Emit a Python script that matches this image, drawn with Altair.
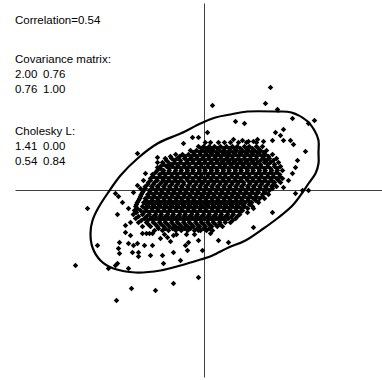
import altair as alt
import pandas as pd

# ---- values shown in the chart text ----
correlation = 0.54
cov_matrix = [[2.00, 0.76], [0.76, 1.00]]
cholesky_L = [[1.41, 0.00], [0.54, 0.84]]

# ---- dense core of the cloud: (y, [x values]) read row by row ----
core_rows = [
    (1.2, [0.02, 0.15, 0.35, 0.5, 0.65, 0.85, 1.05, 1.3]),
    (1.1, [-0.15, -0.02, 0.12, 0.25, 0.4, 0.55, 0.7, 0.82, 1.0, 1.12, 1.3, 1.45]),
    (1.05, [-0.08, 0.05, 0.18, 0.32, 0.48, 0.62, 0.75, 0.9, 1.05, 1.2, 1.35]),
    (1.0, [-0.35, -0.2, -0.05, 0.1, 0.22, 0.38, 0.5, 0.65, 0.8, 0.95, 1.1, 1.25, 1.4, 1.55]),
    (0.95, [-0.28, -0.12, 0.02, 0.15, 0.3, 0.45, 0.58, 0.72, 0.88, 1.02, 1.18, 1.32, 1.48]),
    (0.9, [-0.72, -0.55, -0.4, -0.25, -0.1, 0.05, 0.2, 0.35, 0.5, 0.62, 0.78, 0.92, 1.08, 1.22, 1.38, 1.52, 1.7]),
    (0.85, [-0.85, -0.62, -0.48, -0.32, -0.18, -0.02, 0.12, 0.28, 0.42, 0.58, 0.7, 0.85, 1.0, 1.15, 1.3, 1.45, 1.6]),
    (0.8, [-0.98, -0.82, -0.68, -0.5, -0.35, -0.2, -0.05, 0.1, 0.25, 0.4, 0.55, 0.7, 0.85, 1.0, 1.15, 1.3, 1.48, 1.62, 1.8]),
    (0.75, [-0.95, -0.75, -0.6, -0.42, -0.28, -0.12, 0.02, 0.18, 0.32, 0.48, 0.62, 0.78, 0.92, 1.08, 1.22, 1.4, 1.55, 1.72]),
    (0.7, [-1.05, -0.9, -0.75, -0.6, -0.45, -0.3, -0.15, 0.0, 0.15, 0.3, 0.42, 0.58, 0.72, 0.88, 1.02, 1.18, 1.32, 1.5, 1.65, 1.85]),
    (0.65, [-1.02, -0.82, -0.68, -0.52, -0.38, -0.22, -0.08, 0.08, 0.22, 0.38, 0.5, 0.65, 0.8, 0.95, 1.1, 1.25, 1.4, 1.58, 1.75]),
    (0.6, [-1.1, -0.95, -0.8, -0.65, -0.5, -0.38, -0.22, -0.08, 0.08, 0.22, 0.38, 0.52, 0.68, 0.82, 0.98, 1.12, 1.28, 1.42, 1.58, 1.75, 1.9]),
    (0.55, [-1.1, -0.88, -0.72, -0.58, -0.45, -0.3, -0.15, 0.0, 0.15, 0.3, 0.45, 0.6, 0.75, 0.9, 1.05, 1.2, 1.35, 1.5, 1.65, 1.82]),
    (0.5, [-1.18, -1.02, -0.88, -0.72, -0.58, -0.42, -0.28, -0.12, 0.02, 0.18, 0.32, 0.48, 0.62, 0.78, 0.92, 1.08, 1.22, 1.38, 1.52, 1.68, 1.82, 1.95]),
    (0.45, [-1.22, -1.05, -0.9, -0.75, -0.6, -0.45, -0.3, -0.15, 0.0, 0.15, 0.3, 0.45, 0.6, 0.75, 0.9, 1.05, 1.2, 1.35, 1.5, 1.65, 1.8]),
    (0.4, [-1.3, -1.12, -0.98, -0.82, -0.68, -0.52, -0.38, -0.22, -0.08, 0.08, 0.22, 0.38, 0.52, 0.68, 0.82, 0.98, 1.12, 1.28, 1.42, 1.58, 1.72, 1.88]),
    (0.35, [-1.28, -1.12, -0.98, -0.82, -0.68, -0.52, -0.38, -0.22, -0.08, 0.08, 0.22, 0.38, 0.52, 0.68, 0.82, 0.98, 1.12, 1.28, 1.42, 1.58, 1.72, 1.88]),
    (0.3, [-1.35, -1.2, -1.05, -0.9, -0.75, -0.6, -0.45, -0.3, -0.15, 0.0, 0.15, 0.3, 0.45, 0.6, 0.75, 0.9, 1.05, 1.2, 1.35, 1.5, 1.65, 1.8, 1.95]),
    (0.25, [-1.35, -1.18, -1.02, -0.88, -0.72, -0.58, -0.42, -0.28, -0.12, 0.02, 0.18, 0.32, 0.48, 0.62, 0.78, 0.92, 1.08, 1.22, 1.38, 1.52, 1.68, 1.85]),
    (0.2, [-1.4, -1.25, -1.08, -0.95, -0.8, -0.65, -0.52, -0.35, -0.2, -0.05, 0.1, 0.25, 0.4, 0.55, 0.7, 0.85, 0.98, 1.15, 1.3, 1.45, 1.6, 1.75, 1.9]),
    (0.15, [-1.42, -1.28, -1.12, -0.98, -0.82, -0.68, -0.52, -0.38, -0.22, -0.08, 0.08, 0.22, 0.38, 0.52, 0.68, 0.82, 0.98, 1.12, 1.28, 1.42, 1.58, 1.72]),
    (0.1, [-1.48, -1.32, -1.18, -1.02, -0.88, -0.72, -0.58, -0.42, -0.28, -0.12, 0.02, 0.18, 0.32, 0.48, 0.62, 0.78, 0.92, 1.08, 1.22, 1.38, 1.52, 1.68, 1.8]),
    (0.05, [-1.48, -1.3, -1.15, -1.0, -0.85, -0.7, -0.55, -0.4, -0.25, -0.1, 0.05, 0.2, 0.35, 0.5, 0.65, 0.8, 0.95, 1.1, 1.25, 1.4, 1.55, 1.7]),
    (0.0, [-1.52, -1.38, -1.22, -1.08, -0.92, -0.78, -0.62, -0.48, -0.32, -0.18, -0.02, 0.12, 0.28, 0.42, 0.58, 0.72, 0.88, 1.02, 1.18, 1.32, 1.48, 1.62]),
    (-0.05, [-1.55, -1.35, -1.2, -1.05, -0.9, -0.75, -0.6, -0.45, -0.3, -0.15, 0.0, 0.15, 0.3, 0.45, 0.6, 0.75, 0.9, 1.05, 1.2, 1.35, 1.52]),
    (-0.1, [-1.58, -1.42, -1.28, -1.12, -0.98, -0.82, -0.68, -0.52, -0.38, -0.22, -0.08, 0.08, 0.22, 0.38, 0.52, 0.68, 0.82, 0.98, 1.12, 1.28, 1.45, 1.6]),
    (-0.15, [-1.6, -1.4, -1.25, -1.1, -0.95, -0.8, -0.65, -0.5, -0.35, -0.2, -0.05, 0.1, 0.25, 0.4, 0.55, 0.7, 0.85, 1.0, 1.15, 1.3, 1.45]),
    (-0.2, [-1.62, -1.48, -1.32, -1.18, -1.02, -0.88, -0.72, -0.58, -0.42, -0.28, -0.12, 0.02, 0.18, 0.32, 0.48, 0.62, 0.78, 0.92, 1.08, 1.22, 1.38, 1.5]),
    (-0.25, [-1.65, -1.45, -1.3, -1.15, -1.0, -0.85, -0.7, -0.55, -0.4, -0.25, -0.1, 0.05, 0.2, 0.35, 0.5, 0.65, 0.8, 0.95, 1.1, 1.28]),
    (-0.3, [-1.68, -1.52, -1.38, -1.22, -1.08, -0.92, -0.78, -0.62, -0.48, -0.32, -0.18, -0.02, 0.12, 0.28, 0.42, 0.58, 0.72, 0.88, 1.02, 1.18, 1.35]),
    (-0.35, [-1.7, -1.45, -1.3, -1.15, -1.0, -0.85, -0.7, -0.55, -0.4, -0.25, -0.1, 0.05, 0.2, 0.35, 0.5, 0.65, 0.8, 0.95, 1.12]),
    (-0.4, [-1.72, -1.55, -1.4, -1.25, -1.1, -0.95, -0.8, -0.65, -0.5, -0.35, -0.2, -0.05, 0.1, 0.25, 0.4, 0.55, 0.7, 0.85, 1.0, 1.2]),
    (-0.45, [-1.68, -1.48, -1.32, -1.18, -1.02, -0.88, -0.72, -0.58, -0.42, -0.28, -0.12, 0.02, 0.18, 0.32, 0.48, 0.62, 0.78, 0.92, 1.08]),
    (-0.5, [-1.75, -1.6, -1.45, -1.3, -1.15, -1.0, -0.85, -0.7, -0.55, -0.4, -0.25, -0.1, 0.05, 0.2, 0.35, 0.5, 0.65, 0.8, 0.95]),
    (-0.55, [-1.7, -1.52, -1.38, -1.22, -1.08, -0.92, -0.78, -0.62, -0.48, -0.32, -0.18, -0.02, 0.12, 0.28, 0.42, 0.58, 0.72, 0.88]),
    (-0.6, [-1.78, -1.55, -1.38, -1.22, -1.08, -0.92, -0.78, -0.62, -0.48, -0.32, -0.18, -0.02, 0.12, 0.28, 0.42, 0.58, 0.72, 0.88]),
    (-0.65, [-1.65, -1.45, -1.28, -1.12, -0.98, -0.82, -0.68, -0.52, -0.38, -0.22, -0.08, 0.08, 0.22, 0.38, 0.52, 0.68, 0.82]),
    (-0.7, [-1.72, -1.5, -1.35, -1.2, -1.05, -0.9, -0.75, -0.6, -0.45, -0.3, -0.15, 0.0, 0.15, 0.3, 0.45, 0.6, 0.78]),
    (-0.75, [-1.58, -1.42, -1.28, -1.12, -0.98, -0.82, -0.68, -0.52, -0.38, -0.22, -0.08, 0.08, 0.22, 0.38, 0.52, 0.7]),
    (-0.8, [-1.65, -1.45, -1.28, -1.12, -0.98, -0.82, -0.68, -0.52, -0.38, -0.22, -0.08, 0.08, 0.22, 0.38, 0.52, 0.65]),
    (-0.85, [-1.4, -1.22, -1.08, -0.92, -0.78, -0.62, -0.48, -0.32, -0.18, -0.02, 0.12, 0.28, 0.4]),
    (-0.9, [-1.55, -1.35, -1.18, -1.02, -0.88, -0.72, -0.58, -0.42, -0.28, -0.12, 0.02, 0.18, 0.32, 0.45]),
    (-0.95, [-1.15, -0.98, -0.8, -0.65, -0.5, -0.35, -0.18, -0.02, 0.12]),
    (-1.0, [-1.25, -1.05, -0.9, -0.72, -0.58, -0.42, -0.25, -0.1, 0.05, 0.2]),
    (-1.1, [-1.0, -0.7, -0.45, -0.25]),
]

# ---- scattered points outside the dense core: (x, y) ----
sparse_points = [
    (1.65, 2.575), (0.2, 2.125), (1.525, 2.175), (1.825, 2.025), (2.2, 1.8), (2.6, 1.675),
    (2.75, 1.75), (0.775, 1.725), (1.0, 1.675), (0.075, 1.45), (-0.15, 1.325), (-0.3, 1.325),
    (-0.525, 1.175), (-1.675, 0.925), (-1.175, 0.825), (-1.175, 0.7), (-1.175, 0.575),
    (-0.9, 0.625), (-1.475, 0.425), (-1.525, 0.25), (-1.675, 0.125), (1.775, 1.45),
    (1.975, 1.525), (1.9, 1.375), (2.15, 1.25), (2.225, 1.15), (2.525, 0.975), (2.325, 0.75),
    (2.275, 0.575), (2.2, 0.425), (2.1, 0.25), (1.975, 0.075), (2.275, -0.075), (2.45, 0.0),
    (2.6, 0.0), (0.725, 1.275), (0.95, 1.25), (1.1, 1.225), (1.225, 1.225), (1.325, 1.275),
    (1.475, 1.225), (1.7, 1.25), (1.975, 1.25),
    (-1.6, 0.05), (-1.775, -0.05), (-2.225, -0.075), (-2.15, -0.15), (-2.05, -0.3), (-1.9, -0.45),
    (-2.925, -0.45), (-2.175, -0.6), (-1.975, -0.875), (-1.85, -0.8),
    (-2.675, -1.375), (-3.225, -1.875), (-2.4, -1.95), (-2.225, -1.875), (-1.9, -1.95),
    (-1.825, -2.45), (-1.225, -2.5), (-0.775, -2.325), (-0.15, -2.175), (-2.2, -2.75),
    (-1.55, -1.075), (-1.45, -1.075), (-1.375, -1.075), (-1.3, -1.075), (-1.85, -1.125),
    (-1.975, -1.05), (-2.125, -1.3), (-2.15, -1.45), (-2.125, -1.575), (-1.9, -1.325),
    (-1.775, -1.375), (-1.675, -1.325), (-1.5, -1.375), (-1.3, -1.375), (-1.8, -1.55),
    (-1.65, -1.55), (-1.65, -1.65), (-1.35, -1.625), (-1.05, -1.625), (-1.025, -1.825),
    (-0.775, -1.55), (-0.6, -1.75), (-1.1, -1.2), (-0.925, -1.175), (-0.85, -1.275),
    (-0.775, -1.125), (-0.475, -1.375), (-0.4, -1.3), (-2.175, -1.825), (-0.425, -1.5),
    (-0.15, -1.25), (-0.15, -1.0), (0.35, -1.25), (0.6, -1.3), (1.225, -0.925), (1.075, -0.55),
    (1.225, -0.45), (1.7, -0.55), (0.15, -1.075), (-0.05, -1.5),
]

# ---- confidence ellipse outline ----
ellipse_x = [-0.1, 0.275, 0.65, 1.075, 1.775, 2.175, 2.55, 2.75, 2.85, 2.85, 2.85, 2.775,
             2.6, 2.45, 2.2, 1.85, 1.475, 1.025, 0.6, 0.2, -0.1, -0.6, -1.1, -1.725, -2.275,
             -2.6, -2.8, -2.85, -2.8, -2.65, -2.425, -2.1, -1.675, -1.175, -0.6]
ellipse_y = [1.675, 1.825, 1.9, 1.975, 1.975, 1.95, 1.75, 1.5, 1.25, 0.95, 0.675, 0.425,
             0.175, -0.05, -0.375, -0.675, -0.95, -1.25, -1.425, -1.625, -1.725, -1.875, -2.0,
             -2.05, -1.95, -1.75, -1.425, -1.075, -0.75, -0.425, -0.075, 0.375, 0.8, 1.175, 1.425]

# ---- build tables ----
core_df = pd.DataFrame([{"x": xv, "y": yv} for yv, xs_ in core_rows for xv in xs_])
sparse_df = pd.DataFrame([{"x": xv, "y": yv} for xv, yv in sparse_points])
ellipse_df = pd.DataFrame({"x": ellipse_x, "y": ellipse_y, "i": list(range(len(ellipse_x)))})

xs = alt.Scale(domain=[-5.1125, 4.4375], nice=False, zero=False)
ys = alt.Scale(domain=[-4.7375, 4.7625], nice=False, zero=False)

FONT = "Liberation Sans"
AXIS_COLOR = "#404040"

X = alt.X("x:Q", scale=xs, axis=None)
Y = alt.Y("y:Q", scale=ys, axis=None)

vaxis = alt.Chart(pd.DataFrame({"x": [0.0], "y": [-4.675], "y2": [4.675]})).mark_rule(
    color=AXIS_COLOR, strokeWidth=1
).encode(x=X, y=Y, y2="y2:Q")

haxis = alt.Chart(pd.DataFrame({"y": [0.0], "x": [-4.725], "x2": [4.45]})).mark_rule(
    color=AXIS_COLOR, strokeWidth=1
).encode(x=X, x2="x2:Q", y=Y)

core = alt.Chart(core_df).mark_point(
    shape="diamond", filled=True, size=32, color="black", opacity=1
).encode(x=X, y=Y)

sparse = alt.Chart(sparse_df).mark_point(
    shape="diamond", filled=True, size=30, color="black", opacity=1
).encode(x=X, y=Y)

ellipse = alt.Chart(ellipse_df).mark_line(
    interpolate="cardinal-closed", color="black", strokeWidth=2.2
).encode(x=X, y=Y, order="i:Q")


def label(text, px, py):
    return alt.Chart(pd.DataFrame({"t": [text]})).mark_text(
        align="left", baseline="alphabetic", font=FONT, fontSize=11.5, color="black"
    ).encode(x=alt.value(px), y=alt.value(py), text="t:N")


texts = [label(f"Correlation={correlation:.2f}", 15, 24),
         label("Covariance matrix:", 15, 63),
         label("Cholesky L:", 15, 135)]
for i, row in enumerate(cov_matrix):
    for j, v in enumerate(row):
        texts.append(label(f"{v:.2f}", 15 + 28 * j, 78 + 15 * i))
for i, row in enumerate(cholesky_L):
    for j, v in enumerate(row):
        texts.append(label(f"{v:.2f}", 15 + 28 * j, 150 + 15 * i))

chart = alt.layer(vaxis, haxis, core, sparse, ellipse, *texts).properties(
    width=382, height=380, padding=0, autosize=alt.AutoSizeParams(type="none"),
    background="white",
).configure_view(stroke=None)

chart.save("out.html", embed_options={"renderer": "svg", "actions": False})
